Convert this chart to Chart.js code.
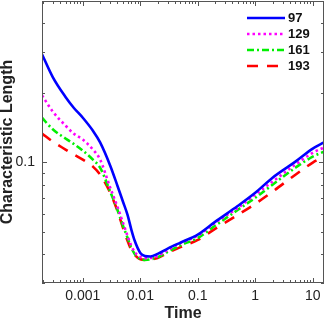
<html>
  <head>
    <title>Characteristic Length vs Time</title>
    <script src="https://cdn.jsdelivr.net/npm/chart.js"></script>
    <style>
      body { margin: 0; padding: 0; background: #fff; }
      #chart { display: block; }
    </style>
  </head>
  <body>
    <canvas id="chart" width="327" height="321"></canvas>
    <script>
      // time values shared by all series
      const times = [0.000195, 0.0003, 0.0005, 0.0007, 0.001, 0.0015, 0.002, 0.003, 0.004, 0.005,
                     0.006, 0.007, 0.008, 0.01, 0.012, 0.015, 0.02, 0.03, 0.05, 0.1,
                     0.2, 0.5, 1, 2, 5, 10, 15.7];

      const seriesNames = ['97', '129', '161', '193'];

      const len97  = [0.294, 0.234, 0.192, 0.172, 0.156, 0.137, 0.122, 0.0967, 0.0792, 0.0675,
                      0.0592, 0.051, 0.0457, 0.0405, 0.0393, 0.0391, 0.0401, 0.0423, 0.0449, 0.0486,
                      0.0552, 0.0648, 0.0738, 0.0858, 0.1007, 0.1147, 0.122];
      const len129 = [0.195, 0.166, 0.1443, 0.133, 0.1255, 0.1136, 0.1027, 0.0776, 0.0642, 0.0547,
                      0.048, 0.0434, 0.0409, 0.0389, 0.0384, 0.0385, 0.0393, 0.0417, 0.0447, 0.0481,
                      0.0547, 0.0635, 0.0724, 0.0825, 0.0977, 0.110, 0.116];
      const len161 = [0.156, 0.139, 0.1268, 0.120, 0.1124, 0.1027, 0.0948, 0.0746, 0.0623, 0.0531,
                      0.0471, 0.0426, 0.0401, 0.0381, 0.0378, 0.0380, 0.0388, 0.0409, 0.0437, 0.0470,
                      0.0531, 0.0623, 0.0702, 0.080, 0.0948, 0.1059, 0.1113];
      const len193 = [0.1333, 0.123, 0.1136, 0.108, 0.1027, 0.0958, 0.0884, 0.0738, 0.0617, 0.052,
                      0.0457, 0.0417, 0.0397, 0.0380, 0.0378, 0.0380, 0.0385, 0.0405, 0.0429, 0.0461,
                      0.0515, 0.0592, 0.0661, 0.0746, 0.0884, 0.0997, 0.1059];

      const xTickValues = [0.001, 0.01, 0.1, 1, 10];
      const xTickLabels = ['0.001', '0.01', '0.1', '1', '10'];
      const yTickValues = [0.1];
      const yTickLabels = ['0.1'];

      Chart.defaults.font.family = "'Liberation Sans', Arial, sans-serif";
      Chart.defaults.color = '#222';

      function points(ys) {
        return times.map((t, i) => ({ x: t, y: ys[i] }));
      }

      // inward tick marks on all four sides plus the box
      const frameTicks = {
        id: 'frameTicks',
        afterDatasetsDraw(chart) {
          const { ctx, chartArea: a, scales } = chart;
          ctx.save();
          ctx.strokeStyle = '#555';
          ctx.lineWidth = 1;
          ctx.beginPath();
          ['x', 'y'].forEach(id => {
            const s = scales[id];
            const e0 = Math.floor(Math.log10(s.min));
            const e1 = Math.ceil(Math.log10(s.max));
            for (let e = e0; e <= e1; e++) {
              for (let k = 1; k <= 9; k++) {
                const v = k * Math.pow(10, e);
                if (v < s.min || v > s.max) continue;
                const len = k === 1 ? 5 : 3;
                const p = Math.round(s.getPixelForValue(v)) + 0.5;
                if (id === 'x') {
                  ctx.moveTo(p, a.bottom); ctx.lineTo(p, a.bottom - len);
                  ctx.moveTo(p, a.top); ctx.lineTo(p, a.top + len);
                } else {
                  ctx.moveTo(a.left, p); ctx.lineTo(a.left + len, p);
                  ctx.moveTo(a.right, p); ctx.lineTo(a.right - len, p);
                }
              }
            }
          });
          ctx.stroke();
          ctx.strokeRect(Math.round(a.left) + 0.5, Math.round(a.top) + 0.5,
                         Math.round(a.right - a.left) - 1, Math.round(a.bottom - a.top) - 1);
          ctx.restore();
        }
      };

      // legend inside the plot, top right
      const insideLegend = {
        id: 'insideLegend',
        afterDraw(chart) {
          const { ctx } = chart;
          ctx.save();
          chart.data.datasets.forEach((ds, i) => {
            const y = 18 + i * 16;
            ctx.strokeStyle = ds.borderColor;
            ctx.lineWidth = ds.borderWidth;
            ctx.setLineDash(ds.borderDash || []);
            ctx.beginPath();
            ctx.moveTo(247, y);
            ctx.lineTo(285, y);
            ctx.stroke();
            ctx.setLineDash([]);
            ctx.fillStyle = '#111';
            ctx.font = "bold 13px 'Liberation Sans', Arial, sans-serif";
            ctx.textBaseline = 'middle';
            ctx.fillText(ds.label, 288, y + 0.5);
          });
          ctx.restore();
        }
      };

      new Chart(document.getElementById('chart'), {
        type: 'line',
        data: {
          datasets: [
            { label: seriesNames[0], data: points(len97),  borderColor: '#0000ff', borderWidth: 2.6, borderDash: [] },
            { label: seriesNames[1], data: points(len129), borderColor: '#ff00ff', borderWidth: 2.6, borderDash: [2.5, 3] },
            { label: seriesNames[2], data: points(len161), borderColor: '#00f000', borderWidth: 2.6, borderDash: [7, 3, 2, 3] },
            { label: seriesNames[3], data: points(len193), borderColor: '#ff0000', borderWidth: 2.6, borderDash: [11, 9] }
          ]
        },
        options: {
          responsive: false,
          animation: false,
          devicePixelRatio: 1,
          layout: { padding: { top: 1, right: 3, left: 0, bottom: 0 } },
          elements: {
            point: { radius: 0 },
            line: { cubicInterpolationMode: 'monotone', fill: false }
          },
          plugins: { legend: { display: false }, tooltip: { enabled: false } },
          scales: {
            x: {
              type: 'logarithmic',
              min: 0.000195,
              max: 15.7,
              afterBuildTicks: s => { s.ticks = xTickValues.map(v => ({ value: v })); },
              afterFit: s => { s.height = 38; s.paddingLeft = 0; s.paddingRight = 0; },
              grid: { display: false, drawTicks: false },
              border: { display: false },
              ticks: {
                autoSkip: false, maxRotation: 0, padding: 5,
                font: { size: 14 },
                callback: v => xTickLabels[xTickValues.indexOf(v)]
              },
              title: {
                display: true, text: 'Time',
                font: { size: 16, weight: 'bold', lineHeight: 0.9 },
                padding: { top: 0, bottom: 0 }
              }
            },
            y: {
              type: 'logarithmic',
              min: 0.03,
              max: 0.5,
              afterBuildTicks: s => { s.ticks = yTickValues.map(v => ({ value: v })); },
              afterFit: s => { s.width = 42; s.paddingTop = 0; s.paddingBottom = 0; },
              grid: { display: false, drawTicks: false },
              border: { display: false },
              ticks: {
                autoSkip: false, padding: 7,
                font: { size: 14 },
                callback: v => yTickLabels[yTickValues.indexOf(v)]
              },
              title: {
                display: true, text: 'Characteristic Length',
                font: { size: 16, weight: 'bold', lineHeight: 0.95 },
                padding: { top: 0, bottom: 0 }
              }
            }
          }
        },
        plugins: [frameTicks, insideLegend]
      });
    </script>
  </body>
</html>
